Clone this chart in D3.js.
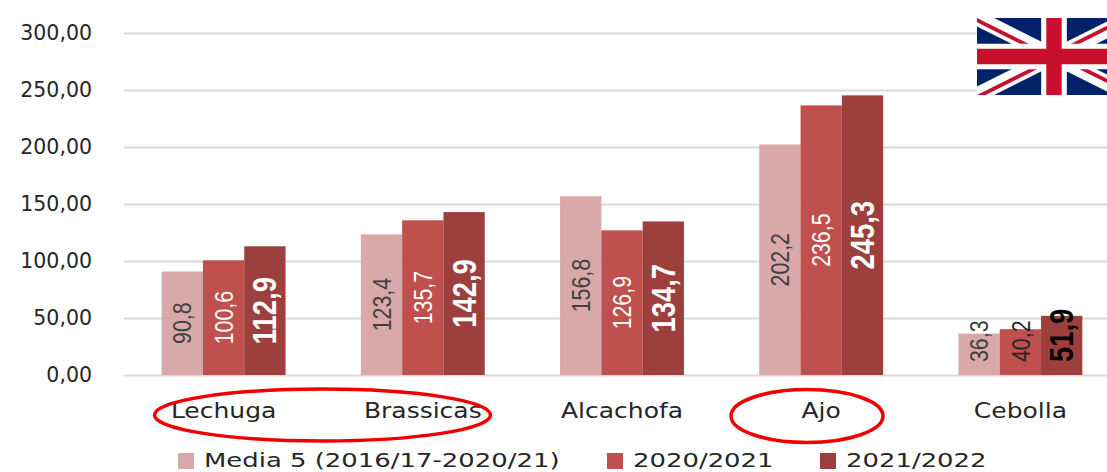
<!DOCTYPE html>
<html>
<head>
<meta charset="utf-8">
<script src="https://cdn.jsdelivr.net/npm/d3@7"></script>
<style>
  html, body { margin: 0; padding: 0; background: #fff; }
  svg { display: block; }
  text { font-family: "DejaVu Sans", sans-serif; fill: #262626; }
  .barLabel { font-family: "Liberation Sans", sans-serif; }
</style>
</head>
<body>
<div id="chart"></div>
<script>
// chart data
var categories = ["Lechuga", "Brassicas", "Alcachofa", "Ajo", "Cebolla"];
var seriesNames = ["Media 5 (2016/17-2020/21)", "2020/2021", "2021/2022"];
var media5 = [90.8, 123.4, 156.8, 202.2, 36.3];
var y2021 = [100.6, 135.7, 126.9, 236.5, 40.2];
var y2022 = [112.9, 142.9, 134.7, 245.3, 51.9];
var yTicks = [0, 50, 100, 150, 200, 250, 300];

var seriesValues = [media5, y2021, y2022];
var colors = ["#d9a9a9", "#c0504d", "#9c3f3d"];
var labelColors = ["#404040", "#ffffff", "#ffffff"];
var lowLabelColors = ["#404040", "#262626", "#000000"];

var svgWidth = 1107;
var svgHeight = 472;

var svg = d3.select("#chart")
    .append("svg")
    .attr("width", svgWidth)
    .attr("height", svgHeight);

// stretch a text sideways, the picture is a bit wider than tall
function stretch(sel, k) {
    sel.each(function () {
        d3.select(this)
            .attr("textLength", this.getComputedTextLength() * k)
            .attr("lengthAdjust", "spacingAndGlyphs");
    });
}

// scales
var xScale = d3.scaleBand()
    .domain(categories)
    .range([124, 1120])
    .paddingInner(0.378)
    .paddingOuter(0.189);

var xInner = d3.scaleBand()
    .domain(d3.range(seriesNames.length))
    .range([0, xScale.bandwidth()]);

var yScale = d3.scaleLinear()
    .domain([0, 300])
    .range([375, 33]);

// y axis with the gridlines
var commaFormat = function (d) { return d3.format(".2f")(d).replace(".", ","); };
var yAxis = d3.axisLeft(yScale)
    .tickValues(yTicks)
    .tickFormat(commaFormat)
    .tickSize(-(1120 - 124))
    .tickPadding(32);

var yG = svg.append("g")
    .attr("transform", "translate(124,0)")
    .call(yAxis);
yG.select(".domain").remove();
yG.selectAll("line").attr("stroke", "#d9d9d9").attr("stroke-width", 2);
yG.selectAll("text")
    .attr("font-size", 20.5)
    .attr("dy", "0.33em");

// x axis
var xAxis = d3.axisBottom(xScale).tickSize(0).tickPadding(0);
var xG = svg.append("g")
    .attr("transform", "translate(0,375)")
    .call(xAxis);
xG.select(".domain").remove();
xG.selectAll("text")
    .attr("font-size", 21)
    .attr("y", 43)
    .attr("dy", 0)
    .call(stretch, 1.19);

// bars
seriesValues.forEach(function (values, s) {
    svg.selectAll(".bar" + s)
        .data(values)
        .enter()
        .append("rect")
        .attr("class", "bar" + s)
        .attr("x", function (d, i) { return xScale(categories[i]) + xInner(s); })
        .attr("y", function (d) { return yScale(d); })
        .attr("width", xInner.bandwidth())
        .attr("height", function (d) { return yScale(0) - yScale(d); })
        .attr("fill", colors[s]);
});

// rotated value labels, centred in the bar unless the bar is too short
seriesValues.forEach(function (values, s) {
    var bold = s === 2;
    svg.selectAll(".label" + s)
        .data(values)
        .enter()
        .append("text")
        .attr("class", "barLabel label" + s)
        .attr("transform", function (d, i) {
            var cx = xScale(categories[i]) + xInner(s) + xInner.bandwidth() / 2;
            var cy = d < 60 ? 362 : (yScale(d) + yScale(0)) / 2;
            return "translate(" + cx + "," + cy + ") rotate(-90)";
        })
        .attr("text-anchor", function (d) { return d < 60 ? "start" : "middle"; })
        .attr("dy", "0.35em")
        .attr("font-size", bold ? 33 : 26)
        .attr("font-weight", bold ? "bold" : "normal")
        .style("fill", function (d) { return d < 60 ? lowLabelColors[s] : labelColors[s]; })
        .text(function (d) { return d3.format(".1f")(d).replace(".", ","); })
        .call(stretch, bold ? 0.83 : 0.82);
});

// legend
var legendX = [178, 607, 820];
seriesNames.forEach(function (name, s) {
    svg.append("rect")
        .attr("x", legendX[s])
        .attr("y", 453)
        .attr("width", 16)
        .attr("height", 16)
        .attr("fill", colors[s]);
    svg.append("text")
        .attr("x", legendX[s] + 26)
        .attr("y", 467)
        .attr("font-size", 20)
        .text(name)
        .call(stretch, 1.295);
});

// red hand drawn ellipses
svg.append("ellipse")
    .attr("cx", 322.5).attr("cy", 415).attr("rx", 168).attr("ry", 26)
    .attr("fill", "none").attr("stroke", "#f00000").attr("stroke-width", 3.5);
svg.append("ellipse")
    .attr("cx", 807).attr("cy", 416).attr("rx", 76).attr("ry", 26.5)
    .attr("fill", "none").attr("stroke", "#f00000").attr("stroke-width", 3.5);

// union jack, runs off the right edge of the picture
var flag = svg.append("svg")
    .attr("x", 977).attr("y", 18)
    .attr("width", 154).attr("height", 77)
    .attr("viewBox", "0 0 60 30")
    .attr("preserveAspectRatio", "none");
flag.append("clipPath").attr("id", "flagClip")
    .append("path").attr("d", "M30,15h30v15zv15h-30zh-30v-15zv-15h30z");
flag.append("rect").attr("width", 60).attr("height", 30).attr("fill", "#012169");
flag.append("path").attr("d", "M0,0L60,30M60,0L0,30").attr("stroke", "#fff").attr("stroke-width", 6);
flag.append("path").attr("d", "M0,0L60,30M60,0L0,30")
    .attr("stroke", "#c8102e").attr("stroke-width", 3)
    .attr("clip-path", "url(#flagClip)");
flag.append("path").attr("d", "M30,0V30M0,15H60").attr("stroke", "#fff").attr("stroke-width", 10);
flag.append("path").attr("d", "M30,0V30M0,15H60").attr("stroke", "#c8102e").attr("stroke-width", 6);
</script>
</body>
</html>
